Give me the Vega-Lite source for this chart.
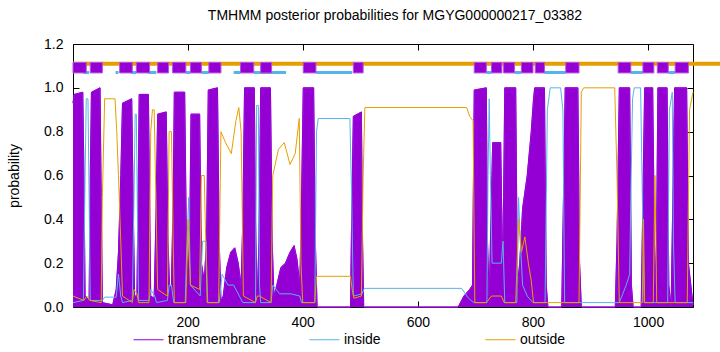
{
  "$schema": "https://vega.github.io/schema/vega-lite/v6.json",
  "width": 620,
  "height": 263,
  "autosize": {"type": "none"},
  "padding": {"left": 73, "top": 44, "right": 27, "bottom": 45},
  "background": "white",
  "config": {
    "font": "Liberation Sans",
    "view": {"stroke": "black", "strokeWidth": 1},
    "axis": {"grid": false, "domain": false, "tickColor": "black", "labelColor": "black", "labelFontSize": 14, "titleFontSize": 14, "titleFontWeight": "normal", "titleColor": "black"}
  },
  "title": {"text": "TMHMM posterior probabilities for MGYG000000217_03382", "fontSize": 14, "fontWeight": "normal", "anchor": "middle", "dx": 12, "offset": 14, "color": "black"},
  "resolve": {"axis": {"x": "independent", "y": "independent"}},
  "datasets": {
    "curves": [
      {"s":"transmembrane","x":1,"y":0.93},{"s":"transmembrane","x":3,"y":0.97},{"s":"transmembrane","x":18,"y":0.98},{"s":"transmembrane","x":20,"y":0.6},{"s":"transmembrane","x":22,"y":0.05},{"s":"transmembrane","x":29,"y":0.03},{"s":"transmembrane","x":31,"y":0.6},{"s":"transmembrane","x":33,"y":0.98},{"s":"transmembrane","x":48,"y":1.0},{"s":"transmembrane","x":50,"y":0.5},{"s":"transmembrane","x":52,"y":0.02},{"s":"transmembrane","x":70,"y":0.01},{"s":"transmembrane","x":76,"y":0.08},{"s":"transmembrane","x":80,"y":0.25},{"s":"transmembrane","x":84,"y":0.6},{"s":"transmembrane","x":87,"y":0.93},{"s":"transmembrane","x":103,"y":0.95},{"s":"transmembrane","x":106,"y":0.4},{"s":"transmembrane","x":108,"y":0.05},{"s":"transmembrane","x":112,"y":0.05},{"s":"transmembrane","x":114,"y":0.5},{"s":"transmembrane","x":116,"y":0.97},{"s":"transmembrane","x":132,"y":0.97},{"s":"transmembrane","x":134,"y":0.5},{"s":"transmembrane","x":136,"y":0.05},{"s":"transmembrane","x":142,"y":0.04},{"s":"transmembrane","x":145,"y":0.4},{"s":"transmembrane","x":148,"y":0.88},{"s":"transmembrane","x":163,"y":0.89},{"s":"transmembrane","x":166,"y":0.3},{"s":"transmembrane","x":169,"y":0.08},{"s":"transmembrane","x":172,"y":0.1},{"s":"transmembrane","x":175,"y":0.5},{"s":"transmembrane","x":177,"y":0.98},{"s":"transmembrane","x":195,"y":0.98},{"s":"transmembrane","x":198,"y":0.3},{"s":"transmembrane","x":201,"y":0.1},{"s":"transmembrane","x":204,"y":0.4},{"s":"transmembrane","x":206,"y":0.88},{"s":"transmembrane","x":221,"y":0.88},{"s":"transmembrane","x":224,"y":0.2},{"s":"transmembrane","x":229,"y":0.12},{"s":"transmembrane","x":233,"y":0.3},{"s":"transmembrane","x":236,"y":0.99},{"s":"transmembrane","x":252,"y":1.0},{"s":"transmembrane","x":255,"y":0.3},{"s":"transmembrane","x":258,"y":0.03},{"s":"transmembrane","x":262,"y":0.05},{"s":"transmembrane","x":268,"y":0.18},{"s":"transmembrane","x":275,"y":0.25},{"s":"transmembrane","x":282,"y":0.27},{"s":"transmembrane","x":288,"y":0.2},{"s":"transmembrane","x":293,"y":0.1},{"s":"transmembrane","x":296,"y":0.4},{"s":"transmembrane","x":299,"y":1.0},{"s":"transmembrane","x":316,"y":1.0},{"s":"transmembrane","x":318,"y":0.4},{"s":"transmembrane","x":321,"y":0.03},{"s":"transmembrane","x":324,"y":0.3},{"s":"transmembrane","x":327,"y":1.0},{"s":"transmembrane","x":344,"y":1.0},{"s":"transmembrane","x":347,"y":0.3},{"s":"transmembrane","x":350,"y":0.05},{"s":"transmembrane","x":355,"y":0.1},{"s":"transmembrane","x":362,"y":0.18},{"s":"transmembrane","x":370,"y":0.2},{"s":"transmembrane","x":378,"y":0.25},{"s":"transmembrane","x":385,"y":0.28},{"s":"transmembrane","x":390,"y":0.22},{"s":"transmembrane","x":395,"y":0.1},{"s":"transmembrane","x":398,"y":0.5},{"s":"transmembrane","x":401,"y":1.0},{"s":"transmembrane","x":419,"y":1.0},{"s":"transmembrane","x":422,"y":0.3},{"s":"transmembrane","x":425,"y":0.0},{"s":"transmembrane","x":483,"y":0.0},{"s":"transmembrane","x":485,"y":0.4},{"s":"transmembrane","x":488,"y":0.87},{"s":"transmembrane","x":502,"y":0.89},{"s":"transmembrane","x":504,"y":0.3},{"s":"transmembrane","x":506,"y":0.0},{"s":"transmembrane","x":670,"y":0.0},{"s":"transmembrane","x":680,"y":0.05},{"s":"transmembrane","x":690,"y":0.08},{"s":"transmembrane","x":695,"y":0.1},{"s":"transmembrane","x":698,"y":0.99},{"s":"transmembrane","x":719,"y":1.0},{"s":"transmembrane","x":721,"y":0.3},{"s":"transmembrane","x":724,"y":0.05},{"s":"transmembrane","x":727,"y":0.4},{"s":"transmembrane","x":730,"y":0.75},{"s":"transmembrane","x":744,"y":0.75},{"s":"transmembrane","x":747,"y":0.2},{"s":"transmembrane","x":749,"y":0.5},{"s":"transmembrane","x":751,"y":1.0},{"s":"transmembrane","x":770,"y":1.0},{"s":"transmembrane","x":773,"y":0.1},{"s":"transmembrane","x":777,"y":0.2},{"s":"transmembrane","x":782,"y":0.45},{"s":"transmembrane","x":790,"y":0.6},{"s":"transmembrane","x":797,"y":0.8},{"s":"transmembrane","x":801,"y":0.95},{"s":"transmembrane","x":803,"y":1.0},{"s":"transmembrane","x":820,"y":1.0},{"s":"transmembrane","x":823,"y":0.1},{"s":"transmembrane","x":826,"y":0.0},{"s":"transmembrane","x":850,"y":0.0},{"s":"transmembrane","x":853,"y":0.5},{"s":"transmembrane","x":856,"y":1.0},{"s":"transmembrane","x":878,"y":1.0},{"s":"transmembrane","x":881,"y":0.2},{"s":"transmembrane","x":884,"y":0.0},{"s":"transmembrane","x":943,"y":0.0},{"s":"transmembrane","x":946,"y":0.3},{"s":"transmembrane","x":950,"y":1.0},{"s":"transmembrane","x":968,"y":1.0},{"s":"transmembrane","x":971,"y":0.1},{"s":"transmembrane","x":974,"y":0.0},{"s":"transmembrane","x":988,"y":0.0},{"s":"transmembrane","x":991,"y":0.5},{"s":"transmembrane","x":994,"y":1.0},{"s":"transmembrane","x":1008,"y":1.0},{"s":"transmembrane","x":1011,"y":0.3},{"s":"transmembrane","x":1014,"y":0.1},{"s":"transmembrane","x":1017,"y":1.0},{"s":"transmembrane","x":1033,"y":1.0},{"s":"transmembrane","x":1036,"y":0.1},{"s":"transmembrane","x":1040,"y":0.0},{"s":"transmembrane","x":1043,"y":0.5},{"s":"transmembrane","x":1046,"y":1.0},{"s":"transmembrane","x":1067,"y":1.0},{"s":"transmembrane","x":1070,"y":0.2},{"s":"transmembrane","x":1078,"y":0.01},

      {"s":"inside","x":1,"y":0.02},{"s":"inside","x":19,"y":0.03},{"s":"inside","x":22,"y":0.6},{"s":"inside","x":24,"y":0.95},{"s":"inside","x":27,"y":0.95},{"s":"inside","x":29,"y":0.5},{"s":"inside","x":31,"y":0.03},{"s":"inside","x":52,"y":0.03},{"s":"inside","x":56,"y":0.045},{"s":"inside","x":76,"y":0.045},{"s":"inside","x":80,"y":0.15},{"s":"inside","x":84,"y":0.05},{"s":"inside","x":87,"y":0.02},{"s":"inside","x":104,"y":0.03},{"s":"inside","x":107,"y":0.5},{"s":"inside","x":109,"y":0.88},{"s":"inside","x":111,"y":0.88},{"s":"inside","x":113,"y":0.4},{"s":"inside","x":115,"y":0.03},{"s":"inside","x":133,"y":0.03},{"s":"inside","x":136,"y":0.08},{"s":"inside","x":143,"y":0.05},{"s":"inside","x":146,"y":0.02},{"s":"inside","x":165,"y":0.03},{"s":"inside","x":168,"y":0.1},{"s":"inside","x":172,"y":0.1},{"s":"inside","x":176,"y":0.02},{"s":"inside","x":196,"y":0.02},{"s":"inside","x":199,"y":0.3},{"s":"inside","x":202,"y":0.5},{"s":"inside","x":205,"y":0.1},{"s":"inside","x":222,"y":0.05},{"s":"inside","x":226,"y":0.3},{"s":"inside","x":232,"y":0.3},{"s":"inside","x":235,"y":0.02},{"s":"inside","x":255,"y":0.02},{"s":"inside","x":260,"y":0.15},{"s":"inside","x":270,"y":0.1},{"s":"inside","x":280,"y":0.1},{"s":"inside","x":290,"y":0.05},{"s":"inside","x":296,"y":0.02},{"s":"inside","x":318,"y":0.02},{"s":"inside","x":320,"y":0.92},{"s":"inside","x":323,"y":0.92},{"s":"inside","x":325,"y":0.1},{"s":"inside","x":327,"y":0.02},{"s":"inside","x":345,"y":0.02},{"s":"inside","x":348,"y":0.1},{"s":"inside","x":360,"y":0.06},{"s":"inside","x":380,"y":0.06},{"s":"inside","x":395,"y":0.05},{"s":"inside","x":398,"y":0.02},{"s":"inside","x":421,"y":0.02},{"s":"inside","x":424,"y":0.8},{"s":"inside","x":427,"y":0.86},{"s":"inside","x":482,"y":0.86},{"s":"inside","x":485,"y":0.5},{"s":"inside","x":488,"y":0.05},{"s":"inside","x":503,"y":0.06},{"s":"inside","x":507,"y":0.085},{"s":"inside","x":676,"y":0.085},{"s":"inside","x":688,"y":0.04},{"s":"inside","x":697,"y":0.02},{"s":"inside","x":720,"y":0.02},{"s":"inside","x":722,"y":0.6},{"s":"inside","x":724,"y":0.95},{"s":"inside","x":726,"y":0.6},{"s":"inside","x":729,"y":0.2},{"s":"inside","x":745,"y":0.2},{"s":"inside","x":748,"y":0.3},{"s":"inside","x":751,"y":0.02},{"s":"inside","x":772,"y":0.02},{"s":"inside","x":775,"y":0.5},{"s":"inside","x":778,"y":0.3},{"s":"inside","x":782,"y":0.1},{"s":"inside","x":790,"y":0.05},{"s":"inside","x":800,"y":0.02},{"s":"inside","x":821,"y":0.02},{"s":"inside","x":825,"y":0.9},{"s":"inside","x":830,"y":1.0},{"s":"inside","x":848,"y":1.0},{"s":"inside","x":852,"y":0.9},{"s":"inside","x":855,"y":0.02},{"s":"inside","x":880,"y":0.02},{"s":"inside","x":950,"y":0.02},{"s":"inside","x":962,"y":0.1},{"s":"inside","x":968,"y":0.15},{"s":"inside","x":970,"y":0.5},{"s":"inside","x":973,"y":0.95},{"s":"inside","x":976,"y":1.0},{"s":"inside","x":987,"y":1.0},{"s":"inside","x":990,"y":0.5},{"s":"inside","x":993,"y":0.02},{"s":"inside","x":1034,"y":0.02},{"s":"inside","x":1037,"y":0.9},{"s":"inside","x":1042,"y":0.98},{"s":"inside","x":1044,"y":0.3},{"s":"inside","x":1047,"y":0.02},{"s":"inside","x":1078,"y":0.02},

      {"s":"outside","x":1,"y":0.05},{"s":"outside","x":20,"y":0.03},{"s":"outside","x":25,"y":0.05},{"s":"outside","x":30,"y":0.03},{"s":"outside","x":50,"y":0.02},{"s":"outside","x":52,"y":0.5},{"s":"outside","x":56,"y":0.95},{"s":"outside","x":74,"y":0.95},{"s":"outside","x":77,"y":0.8},{"s":"outside","x":80,"y":0.6},{"s":"outside","x":84,"y":0.3},{"s":"outside","x":87,"y":0.05},{"s":"outside","x":104,"y":0.02},{"s":"outside","x":107,"y":0.08},{"s":"outside","x":112,"y":0.06},{"s":"outside","x":115,"y":0.02},{"s":"outside","x":133,"y":0.02},{"s":"outside","x":136,"y":0.8},{"s":"outside","x":139,"y":0.9},{"s":"outside","x":142,"y":0.9},{"s":"outside","x":145,"y":0.5},{"s":"outside","x":148,"y":0.08},{"s":"outside","x":165,"y":0.05},{"s":"outside","x":168,"y":0.8},{"s":"outside","x":172,"y":0.8},{"s":"outside","x":175,"y":0.3},{"s":"outside","x":177,"y":0.02},{"s":"outside","x":197,"y":0.02},{"s":"outside","x":201,"y":0.4},{"s":"outside","x":205,"y":0.1},{"s":"outside","x":221,"y":0.08},{"s":"outside","x":224,"y":0.6},{"s":"outside","x":229,"y":0.6},{"s":"outside","x":234,"y":0.02},{"s":"outside","x":254,"y":0.02},{"s":"outside","x":258,"y":0.8},{"s":"outside","x":266,"y":0.75},{"s":"outside","x":276,"y":0.7},{"s":"outside","x":284,"y":0.85},{"s":"outside","x":289,"y":0.91},{"s":"outside","x":293,"y":0.8},{"s":"outside","x":297,"y":0.05},{"s":"outside","x":318,"y":0.02},{"s":"outside","x":321,"y":0.05},{"s":"outside","x":325,"y":0.05},{"s":"outside","x":345,"y":0.02},{"s":"outside","x":348,"y":0.6},{"s":"outside","x":358,"y":0.72},{"s":"outside","x":368,"y":0.75},{"s":"outside","x":378,"y":0.65},{"s":"outside","x":387,"y":0.7},{"s":"outside","x":394,"y":0.86},{"s":"outside","x":397,"y":0.2},{"s":"outside","x":400,"y":0.02},{"s":"outside","x":421,"y":0.02},{"s":"outside","x":424,"y":0.14},{"s":"outside","x":483,"y":0.14},{"s":"outside","x":486,"y":0.08},{"s":"outside","x":489,"y":0.04},{"s":"outside","x":502,"y":0.05},{"s":"outside","x":505,"y":0.6},{"s":"outside","x":508,"y":0.91},{"s":"outside","x":685,"y":0.91},{"s":"outside","x":690,"y":0.87},{"s":"outside","x":696,"y":0.85},{"s":"outside","x":699,"y":0.02},{"s":"outside","x":719,"y":0.02},{"s":"outside","x":728,"y":0.05},{"s":"outside","x":745,"y":0.05},{"s":"outside","x":750,"y":0.02},{"s":"outside","x":770,"y":0.02},{"s":"outside","x":775,"y":0.4},{"s":"outside","x":780,"y":0.25},{"s":"outside","x":786,"y":0.32},{"s":"outside","x":792,"y":0.2},{"s":"outside","x":797,"y":0.12},{"s":"outside","x":801,"y":0.02},{"s":"outside","x":880,"y":0.02},{"s":"outside","x":884,"y":0.98},{"s":"outside","x":888,"y":1.0},{"s":"outside","x":942,"y":1.0},{"s":"outside","x":946,"y":0.6},{"s":"outside","x":950,"y":0.02},{"s":"outside","x":990,"y":0.02},{"s":"outside","x":992,"y":0.4},{"s":"outside","x":994,"y":0.02},{"s":"outside","x":1009,"y":0.02},{"s":"outside","x":1012,"y":0.6},{"s":"outside","x":1015,"y":0.02},{"s":"outside","x":1068,"y":0.02},{"s":"outside","x":1072,"y":0.9},{"s":"outside","x":1078,"y":0.98}
    ],
    "tm": [
      {"a":1,"b":24},{"a":31,"b":52},{"a":82,"b":104},{"a":111,"b":134},{"a":148,"b":167},{"a":174,"b":197},{"a":205,"b":224},{"a":237,"b":258},{"a":292,"b":315},{"a":327,"b":346},{"a":401,"b":423},{"a":488,"b":505},{"a":698,"b":719},{"a":728,"b":746},{"a":749,"b":768},{"a":780,"b":800},{"a":804,"b":820},{"a":857,"b":880},{"a":948,"b":970},{"a":991,"b":1010},{"a":1016,"b":1035},{"a":1047,"b":1070}
    ],
    "ins": [
      {"a":19,"b":29},{"a":75,"b":80},{"a":102,"b":111},{"a":132,"b":146},{"a":197,"b":205},{"a":224,"b":237},{"a":280,"b":292},{"a":315,"b":371},{"a":423,"b":486},{"a":719,"b":728},{"a":768,"b":780},{"a":820,"b":857},{"a":970,"b":991},{"a":1035,"b":1047}
    ],
    "outs": [{"a":1,"b":1125}]
  },
  "layer": [
    {
      "data": {"name": "outs"},
      "mark": {"type": "rule", "color": "#E69F00", "strokeWidth": 4, "clip": false},
      "encoding": {
        "x": {"field": "a", "type": "quantitative", "scale": {"domain": [1, 1078], "nice": false, "zero": false},
              "axis": {"orient": "top", "values": [200, 400, 600, 800, 1000], "labels": false, "title": null, "tickSize": -6}},
        "x2": {"field": "b"},
        "y": {"datum": 1.11, "type": "quantitative", "scale": {"domain": [0, 1.2], "nice": false},
              "axis": {"orient": "right", "values": [0, 0.2, 0.4, 0.6, 0.8, 1, 1.2], "labels": false, "title": null, "tickSize": -6}}
      }
    },
    {
      "data": {"name": "ins"},
      "mark": {"type": "rule", "color": "#56B4E9", "strokeWidth": 3},
      "encoding": {
        "x": {"field": "a", "type": "quantitative", "axis": null},
        "x2": {"field": "b"},
        "y": {"datum": 1.07, "type": "quantitative", "axis": null}
      }
    },
    {
      "data": {"name": "tm"},
      "mark": {"type": "rect", "color": "#9400D3", "stroke": "#B84FE0", "strokeWidth": 1},
      "encoding": {
        "x": {"field": "a", "type": "quantitative", "axis": null},
        "x2": {"field": "b"},
        "y": {"datum": 1.068, "type": "quantitative", "axis": null},
        "y2": {"datum": 1.116}
      }
    },
    {
      "data": {"name": "curves"},
      "transform": [{"filter": "datum.s === 'transmembrane'"}],
      "mark": {"type": "area", "color": "#9400D3", "opacity": 1, "line": {"color": "#A030E0", "strokeWidth": 1}},
      "encoding": {
        "x": {"field": "x", "type": "quantitative", "axis": null},
        "y": {"field": "y", "type": "quantitative", "axis": null}
      }
    },
    {
      "data": {"name": "curves"},
      "mark": {"type": "line", "strokeWidth": 1},
      "encoding": {
        "x": {"field": "x", "type": "quantitative",
              "axis": {"orient": "bottom", "values": [200, 400, 600, 800, 1000], "format": "d", "title": null, "tickSize": -6, "labelPadding": 14, "labelFontSize": 14}},
        "y": {"field": "y", "type": "quantitative",
              "axis": {"orient": "left", "values": [0, 0.2, 0.4, 0.6, 0.8, 1, 1.2], "title": "probability", "tickSize": -6, "labelPadding": 16, "titleX": -52, "labelFontSize": 14}},
        "color": {"field": "s", "type": "nominal",
                  "scale": {"domain": ["transmembrane", "inside", "outside"], "range": ["#9400D3", "#56B4E9", "#E69F00"]},
                  "legend": {"title": null, "orient": "none", "legendX": 60, "legendY": 280, "direction": "horizontal", "gridAlign": "all", "symbolType": "stroke", "symbolSize": 900, "symbolStrokeWidth": 1, "labelFontSize": 14, "columnPadding": 40, "labelColor": "black"}},
        "order": {"field": "x", "type": "quantitative"}
      }
    }
  ]
}
